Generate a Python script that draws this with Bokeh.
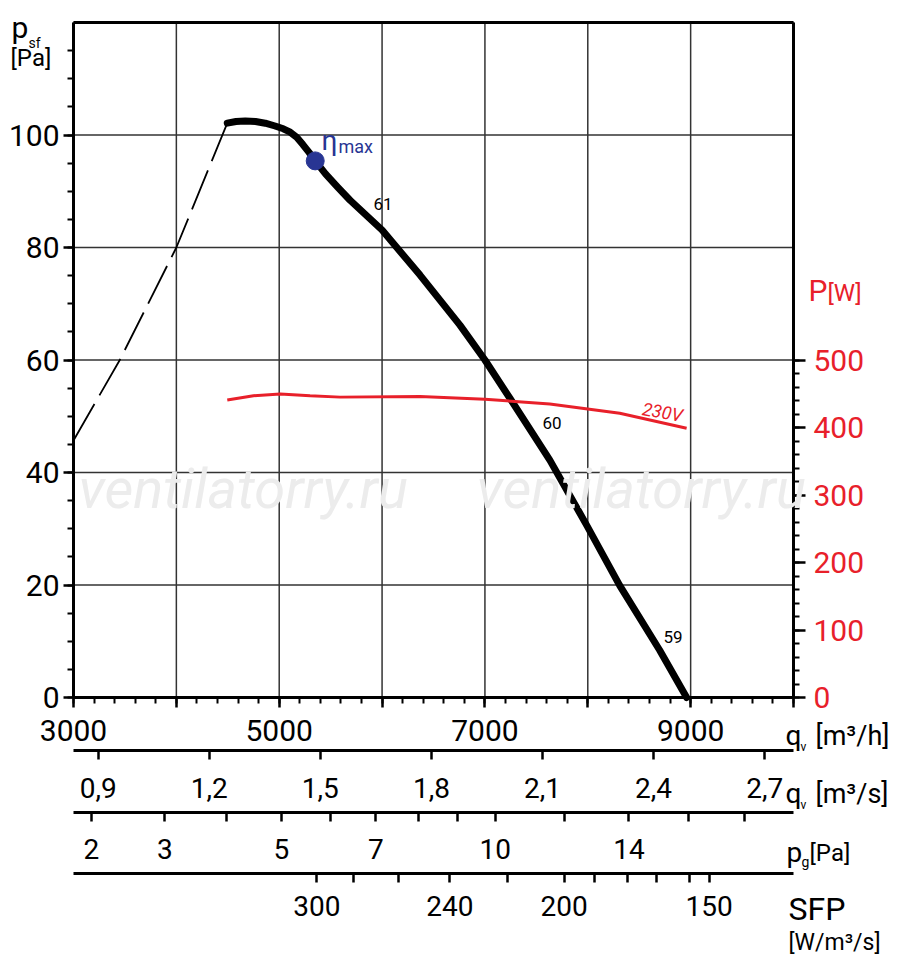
from bokeh.plotting import figure
from bokeh.models import (Range1d, LinearAxis, FixedTicker, Label)
from bokeh.embed import file_html
from bokeh.resources import INLINE
import math

# data
q_main = [4495, 4580, 4670, 4770, 4864, 4960, 5040, 5107, 5170, 5230, 5290, 5350, 5450, 5570, 5689,
          6000, 6369, 6757, 7000, 7243, 7631, 7990, 8311, 8699, 8961]
p_main = [102.1, 102.4, 102.5, 102.4, 102.1, 101.6, 101.1, 100.5, 99.6, 98.3, 96.9, 95.4, 93.1, 90.7, 88.4,
          83.1, 75.1, 66.2, 60.0, 53.2, 42.2, 30.6, 19.9, 8.4, 0.0]
q_dash = [3000, 3450, 4000, 4495]
p_dash = [45.7, 60.0, 80.0, 102.1]
q_pow = [4495, 4750, 5010, 5300, 5592, 6369, 7000, 7631, 8311, 8961]
w_pow = [440.6, 447, 449.5, 447, 445, 446, 442, 434.7, 421, 399]
eta_q, eta_p = 5350, 95.4
y_ticks = [0, 20, 40, 60, 80, 100, 120]
y_labeled = [0, 20, 40, 60, 80, 100]
w_ticks = [0, 100, 200, 300, 400, 500]
qh_ticks = [3000, 4000, 5000, 6000, 7000, 8000, 9000, 10000]
qh_labels = ["3000", "", "5000", "", "7000", "", "9000", ""]
qs_ticks = [0.9, 1.2, 1.5, 1.8, 2.1, 2.4, 2.7]
pg_ticks = [2, 3, 4, 5, 6, 7, 8, 9, 10, 12, 14, 16, 18]
pg_labeled = [2, 3, 5, 7, 10, 14]
pg_k = 2245
sfp_ticks = [300, 280, 260, 240, 220, 200, 190, 180, 170, 160, 150]
sfp_q = [5367, 5725, 6155, 6660, 7215, 7770, 8070, 8390, 8670, 8990, 9180]
sfp_labeled = [300, 240, 200, 150]

Q0, Q1, P0, P1 = 3000, 10000, 0, 120
W_PER_PA = 500 / 60
SX = 720 / (Q1 - Q0)      # px per m3/h
SY = 675 / (P1 - P0)      # px per Pa
LEFT, TOP = 73, 22        # page position of the chart frame corner
FW, FH = 898, 965
x_start = Q0 - LEFT / SX
x_end = x_start + FW / SX
y_end = P1 + TOP / SY
y_start = y_end - FH / SY

FONT = "Roboto"
p = figure(frame_width=FW, frame_height=FH, x_range=Range1d(x_start, x_end), y_range=Range1d(y_start, y_end),
           output_backend="svg", toolbar_location=None,
           min_border_left=0, min_border_right=0, min_border_top=0, min_border_bottom=0)
p.extra_y_ranges = {"w": Range1d(y_start * W_PER_PA, y_end * W_PER_PA)}
p.outline_line_color = None
p.grid.visible = False
p.xaxis.visible = False
p.yaxis.visible = False

# grid lines from tick lists
p.segment(x0=qh_ticks, y0=[P0] * len(qh_ticks), x1=qh_ticks, y1=[P1] * len(qh_ticks),
          line_color="#333333", line_width=1.5)
p.segment(x0=[Q0] * len(y_ticks), y0=y_ticks, x1=[Q1] * len(y_ticks), y1=y_ticks,
          line_color="#333333", line_width=1.5)

def style(ax, size="26px"):
    ax.axis_line_width = 3
    ax.axis_line_color = "black"
    ax.major_tick_line_width = 2.5
    ax.minor_tick_line_width = 2
    ax.major_tick_in = 0
    ax.minor_tick_in = 0
    ax.major_label_text_font = FONT
    ax.major_label_text_font_size = size
    ax.major_label_text_color = "black"

ya = LinearAxis(fixed_location=Q0)
style(ya, "30px")
ya.bounds = (P0, P1)
ya.ticker = FixedTicker(ticks=y_labeled, minor_ticks=list(range(0, 120, 5)))
ya.major_tick_out = 10
ya.minor_tick_out = 6
ya.major_label_standoff = 4
p.add_layout(ya, "left")

ra = LinearAxis(y_range_name="w", fixed_location=Q1)
style(ra, "30px")
ra.bounds = (P0 * W_PER_PA, P1 * W_PER_PA)
ra.ticker = FixedTicker(ticks=w_ticks, minor_ticks=list(range(0, 520, 20)))
ra.major_tick_out = 12
ra.minor_tick_out = 6
ra.major_label_standoff = 8
ra.major_label_text_color = "#e8202a"
p.add_layout(ra, "right")

top = LinearAxis(fixed_location=P1, ticker=FixedTicker(ticks=[]))
top.axis_line_width = 3
top.bounds = (Q0, Q1)
top.major_label_text_font_size = "0px"
p.add_layout(top, "above")

def row(y):  # page pixel row -> Pa
    return (TOP + 675 - y) / SY

def xaxis_row(loc, standoff, size="28px"):
    ax = LinearAxis()
    style(ax, size)
    ax.fixed_location = loc
    ax.bounds = (Q0, Q1)
    ax.major_tick_out = 9
    ax.major_label_standoff = standoff
    p.add_layout(ax, "below")
    return ax

xa = xaxis_row(1e-6, 12, "30px")
xa.ticker = FixedTicker(ticks=qh_ticks, minor_ticks=list(range(3000, 10001, 200)))
xa.major_label_overrides = {t: l for t, l in zip(qh_ticks, qh_labels)}
xa.major_tick_out = 10
xa.minor_tick_out = 6

a2 = xaxis_row(row(750), 18)
qs_pos = [round(v * 3600, 3) for v in qs_ticks]
a2.ticker = FixedTicker(ticks=qs_pos, minor_ticks=[])
a2.major_label_overrides = {pp: str(v).replace(".", ",") for pp, v in zip(qs_pos, qs_ticks)}

a3 = xaxis_row(row(812), 17)
pg_pos = [round(pg_k * math.sqrt(v), 3) for v in pg_ticks]
a3.ticker = FixedTicker(ticks=pg_pos, minor_ticks=[])
a3.major_label_overrides = {pp: (str(v) if v in pg_labeled else "") for pp, v in zip(pg_pos, pg_ticks)}

a4 = xaxis_row(row(873), 13)
a4.ticker = FixedTicker(ticks=sfp_q, minor_ticks=[])
a4.major_label_overrides = {qq: (str(v) if v in sfp_labeled else "") for qq, v in zip(sfp_q, sfp_ticks)}

# curves
p.line(q_dash, p_dash, line_color="black", line_width=1.8, line_dash="42 10")
p.line(q_main, p_main, line_color="black", line_width=7, line_cap="round", line_join="round")
p.line(q_pow, w_pow, y_range_name="w", line_color="#e8202a", line_width=3)
p.scatter([eta_q], [eta_p], size=18, color="#283593")

def px(x):
    return x_start + x / SX
def py(y):
    return y_end - y / SY

def lab(x, y, t, size="18px", color="black", **kw):
    p.add_layout(Label(x=px(x), y=py(y), text=t, text_font=FONT, text_font_size=size,
                       text_color=color, text_baseline="middle", **kw))

for xx in (78, 476):
    lab(xx, 488, "ventilatorry.ru", "56px", "#ececec", text_font_style="italic")
lab(321, 140, "η", "28px", "#283593")
lab(338, 146, "max", "18px", "#283593")
lab(373, 203, "61", "17px")
lab(542, 422, "60", "17px")
lab(663, 636, "59", "17px")
lab(642, 408, "230V", "18px", "#e8202a", text_font_style="italic", angle=-0.17)

# axis titles
lab(11, 27, "p", "30px")
lab(28, 42, "sf", "14px")
lab(10, 57, "[Pa]", "24px")
lab(808, 290, "P", "30px", "#e8202a")
lab(827, 292, "[W]", "24px", "#e8202a")
for yy in (735, 793):
    lab(785, yy, "q", "28px")
    lab(800, yy + 11, "v", "12px")
lab(815, 735, "[m³/h]", "27px")
lab(815, 793, "[m³/s]", "27px")
lab(786, 852, "p", "28px")
lab(801, 861, "g", "14px")
lab(809, 852, "[Pa]", "24px")
lab(788, 908, "SFP", "32px")
lab(788, 942, "[W/m³/s]", "23px")

open("out.html", "w").write(file_html(p, INLINE))
